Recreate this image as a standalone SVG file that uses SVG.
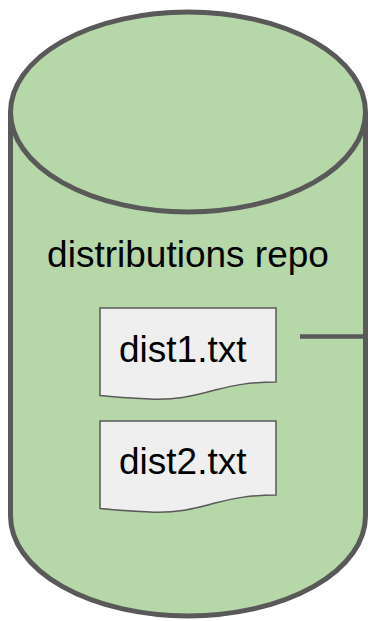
<svg xmlns="http://www.w3.org/2000/svg" width="368" height="621" viewBox="0 0 368 621">
  <style>
    .cyl { fill: #b6d7a8; stroke: #595959; stroke-width: 5; }
    .doc { fill: #efefef; stroke: #595959; stroke-width: 1.5; }
    .lbl { font-family: "Liberation Sans", Arial, sans-serif; font-size: 37px; fill: #000000; }
    .conn { stroke: #595959; stroke-width: 4.5; fill: none; }
  </style>
  <defs>
    <path id="docshape" d="M100,308 H276 V382 C250,382 235,385 215,390 C190,397 175,400 150,399 C130,398 115,397 100,395.5 Z"/>
  </defs>
  <g id="repo">
    <path class="cyl" d="M10.5,112 A177.5,100 0 0 1 365.5,112 V516 A177.5,100 0 0 1 10.5,516 Z"/>
    <path class="cyl" fill="none" d="M10.5,112 A177.5,100 0 0 0 365.5,112"/>
    <text class="lbl" x="188" y="267" text-anchor="middle">distributions repo</text>
  </g>
  <g id="dist1">
    <use href="#docshape" class="doc"/>
    <text class="lbl" x="119" y="361.5">dist1.txt</text>
  </g>
  <g id="dist2">
    <use href="#docshape" class="doc" transform="translate(0,113)"/>
    <text class="lbl" x="119" y="474">dist2.txt</text>
  </g>
  <g id="connectors">
    <line class="conn" x1="300" y1="336.5" x2="365.5" y2="336.5"/>
  </g>
</svg>
